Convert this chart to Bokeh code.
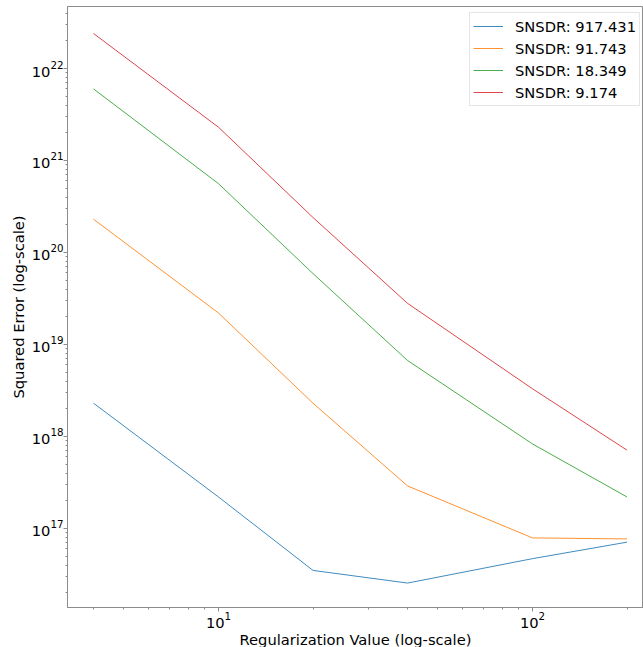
from bokeh.plotting import figure
from bokeh.models import Range1d, FixedTicker, LogTickFormatter, Legend, LegendItem
from bokeh.embed import file_html
from bokeh.resources import INLINE

# ---- data ----
reg_values = [4, 10, 20, 40, 100, 200]
err_917 = [2.3e18, 2.2e17, 3.5e16, 2.55e16, 4.7e16, 7.1e16]
err_91 = [2.3e20, 2.2e19, 2.3e18, 2.9e17, 7.9e16, 7.7e16]
err_18 = [6.0e21, 5.6e20, 5.9e19, 6.7e18, 8.3e17, 2.2e17]
err_9 = [2.4e22, 2.3e21, 2.4e20, 2.8e19, 3.3e18, 7.1e17]
series_labels = ["SNSDR: 917.431", "SNSDR: 91.743", "SNSDR: 18.349", "SNSDR: 9.174"]
series_colors = ["#1f77b4", "#ff7f0e", "#2ca02c", "#d62728"]

x_major = [10, 100]
y_major = [1e17, 1e18, 1e19, 1e20, 1e21, 1e22]

FONT = "DejaVu Sans"
FS = "14.7px"
SPINE = "#8c8c8c"

x_minor = [m * 10 ** k for k in range(0, 3) for m in range(1, 10)]
y_minor = [m * 10 ** k for k in range(16, 23) for m in range(1, 10)]

FRAME_W = 576
FRAME_H = 601

p = figure(frame_width=FRAME_W, frame_height=FRAME_H,
           x_axis_type="log", y_axis_type="log",
           x_range=Range1d(10 ** 0.5191, 10 ** 2.3535),
           y_range=Range1d(10 ** 16.141, 10 ** 22.674),
           output_backend="svg", toolbar_location=None,
           min_border_left=67, min_border_top=6, min_border_right=0, min_border_bottom=0)

p.xgrid.visible = False
p.ygrid.visible = False
p.outline_line_color = SPINE
p.outline_line_width = 1
p.background_fill_color = "white"
p.border_fill_color = "white"

p.xaxis.ticker = FixedTicker(ticks=x_major, minor_ticks=x_minor)
p.yaxis.ticker = FixedTicker(ticks=y_major, minor_ticks=y_minor)
p.xaxis.formatter = LogTickFormatter()
p.yaxis.formatter = LogTickFormatter()

for ax in (p.xaxis, p.yaxis):
    ax.axis_line_color = SPINE
    ax.major_tick_line_color = SPINE
    ax.minor_tick_line_color = SPINE
    ax.major_tick_in = 0
    ax.major_tick_out = 4
    ax.minor_tick_in = 0
    ax.minor_tick_out = 2
    ax.major_label_text_font = FONT
    ax.major_label_text_font_size = FS
    ax.major_label_text_color = "black"
    ax.axis_label_text_font = FONT
    ax.axis_label_text_font_size = FS
    ax.axis_label_text_font_style = "normal"
    ax.axis_label_text_color = "black"
    ax.major_label_standoff = 0
    ax.axis_label_standoff = 0
p.yaxis.axis_label_standoff = 2

p.xaxis.axis_label = "Regularization Value (log-scale)"
p.yaxis.axis_label = "Squared Error (log-scale)"

items = []
for ys, lab, col in zip([err_917, err_91, err_18, err_9], series_labels, series_colors):
    r = p.line(reg_values, ys, line_color=col, line_width=1, line_alpha=0.85)
    items.append(LegendItem(label=lab, renderers=[r]))

legend = Legend(items=items, location=(402, 501), margin=0,
                label_text_font=FONT, label_text_font_size=FS, label_text_color="black",
                glyph_width=30, glyph_height=20, label_height=20, label_standoff=12,
                padding=3, spacing=2,
                border_line_color="#cccccc", border_line_width=1,
                background_fill_color="white", background_fill_alpha=0.8)
p.add_layout(legend)

open("out.html", "w").write(file_html(p, INLINE))
